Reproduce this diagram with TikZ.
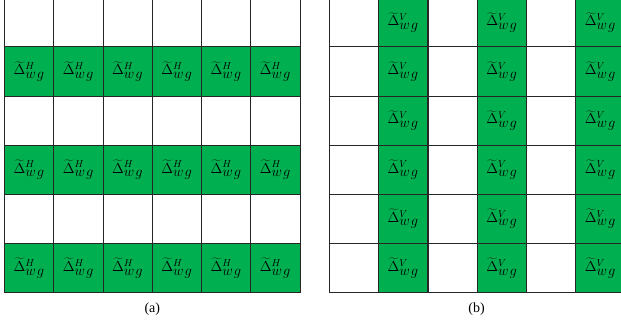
\documentclass[tikz,border=0pt]{standalone}
\usepackage{fontspec}
\setmainfont{Liberation Serif}
\definecolor{cellgreen}{HTML}{00B050}
\definecolor{gridline}{HTML}{262626}
\tikzset{
  cellbox/.style={draw=gridline, line width=0.8pt, minimum width=49.25pt, minimum height=49.17pt, inner sep=0pt, anchor=north west, outer sep=0pt, align=center},
  greencell/.style={cellbox, fill=cellgreen, font=\fontsize{14}{17}\selectfont},
  whitecell/.style={cellbox, fill=white},
  caption/.style={font=\fontsize{14}{16}\selectfont, anchor=center}
}
\newcommand{\lblH}{$\widetilde{\Delta}^{H}_{\textstyle w\kern1pt g}$}
\newcommand{\lblV}{$\widetilde{\Delta}^{V}_{\textstyle w\kern1pt g}$}
\begin{document}
\begin{tikzpicture}[x=1pt,y=1pt]
\useasboundingbox (0,0) rectangle (621,325);
\clip (0,0) rectangle (621,325);
% left grid: green rows 2,4,6
\foreach \i in {0,...,5}{
  \foreach \j in {0,...,5}{
    \pgfmathtruncatemacro{\odd}{mod(\i,2)}
    \ifnum\odd=1
      \node[greencell] (L-\i-\j) at ({4.5+\j*49.25},{327.3-\i*49.17}) {\lblH};
    \else
      \node[whitecell] (L-\i-\j) at ({4.5+\j*49.25},{327.3-\i*49.17}) {};
    \fi
  }
}
% right grid: green columns 2,4,6
\foreach \i in {0,...,5}{
  \foreach \j in {0,...,5}{
    \pgfmathtruncatemacro{\odd}{mod(\j,2)}
    \ifnum\odd=1
      \node[greencell] (R-\i-\j) at ({329.3+\j*49.3},{327.3-\i*49.17}) {\lblV};
    \else
      \node[whitecell] (R-\i-\j) at ({329.3+\j*49.3},{327.3-\i*49.17}) {};
    \fi
  }
}
\node[caption] (capa) at (152.3,16) {(a)};
\node[caption] (capb) at (476.5,16) {(b)};
\end{tikzpicture}
\end{document}
